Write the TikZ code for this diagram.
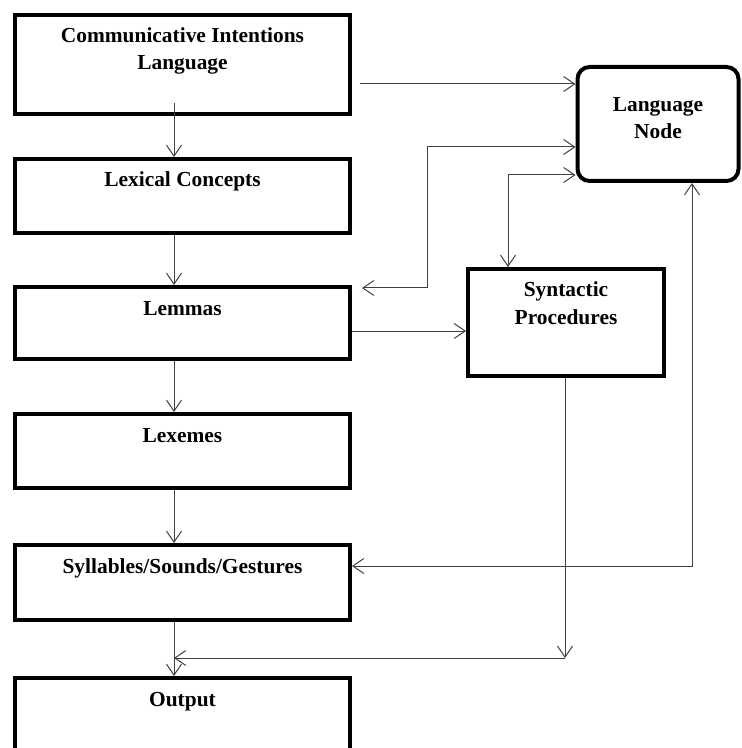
\documentclass[tikz,border=0pt]{standalone}
\usepackage{fontspec}
\setmainfont{Liberation Serif}
\usetikzlibrary{arrows.meta,positioning,calc}
\newcommand{\stagefont}{\bfseries\fontsize{10.7}{13.5}\selectfont}
\tikzset{
  stage/.style={
    draw=black, line width=2pt, anchor=north, minimum width=167.5pt,
    inner xsep=0pt, inner ysep=0pt, text height=14pt, text depth=#1,
    align=center, font=\stagefont
  },
  twoline/.style={text height=27.5pt},
  synbox/.style={stage=26pt, twoline, minimum width=98pt},
  langnode/.style={
    draw=black, line width=2pt, anchor=north, rounded corners=6pt,
    minimum width=80.5pt, inner xsep=0pt, inner ysep=0pt,
    text height=36pt, text depth=21pt, align=center, font=\stagefont
  },
  flow/.style={-{Straight Barb[length=5.5pt,width=7.5pt]}, line width=0.5pt, draw=black!75},
  flowboth/.style={{Straight Barb[length=5.5pt,width=7.5pt]}-{Straight Barb[length=5.5pt,width=7.5pt]},
    line width=0.5pt, draw=black!75}
}
\begin{document}
\begin{tikzpicture}[x=0.5pt,y=-0.5pt]
  \useasboundingbox (0,0) rectangle (741,748);
  % production stages
  \node[stage=22pt, twoline] (intent) at (182.5,13) {Communicative Intentions\\Language};
  \node[stage=23pt] (lexcon) at (182.5,157) {Lexical Concepts};
  \node[stage=22pt] (lemmas) at (182.5,285) {Lemmas};
  \node[stage=23pt] (lexemes) at (182.5,412) {Lexemes};
  \node[stage=23.5pt] (sylls) at (182.5,543) {Syllables/Sounds/Gestures};
  \node[stage=40pt] (output) at (182.5,676) {Output};
  \node[langnode] (lang) at (658,65) {Language\\Node};
  \node[synbox] (syntax) at (566,267) {Syntactic\\Procedures};
  % bends and free ends
  \coordinate (spine) at (174,0);
  \coordinate (introot) at (174,103);
  \coordinate (toLang) at (360,84);
  \coordinate (lemUp) at (427,147);
  \coordinate (lemTip) at (362,288);
  \coordinate (synUp) at (508,175);
  \coordinate (lemSyn) at (352,331);
  \coordinate (synDown) at (565,658);
  \coordinate (outJoin) at (174,658);
  \coordinate (sylRight) at (692,566);
  % main chain
  \draw[flow] (introot) -- (introot |- lexcon.north);
  \draw[flow] (spine |- lexcon.south) -- (spine |- lemmas.north);
  \draw[flow] (spine |- lemmas.south) -- (spine |- lexemes.north);
  \draw[flow] (spine |- lexemes.south) -- (spine |- sylls.north);
  \draw[flow] (spine |- sylls.south) -- (spine |- output.north);
  % links to the language node
  \draw[flow] (toLang) -- (toLang -| lang.west);
  \draw[flowboth] (lemTip) -| (lemUp) -- (lemUp -| lang.west);
  \draw[flowboth] (syntax.north -| synUp) -- (synUp) -- (synUp -| lang.west);
  \draw[flowboth] (sylRight -| sylls.east) -- (sylRight) -- (sylRight |- lang.south);
  % syntax
  \draw[flow] (lemSyn) -- (lemSyn -| syntax.west);
  \draw[flow] (syntax.south -| synDown) -- (synDown);
  \draw[flow] (synDown) -- (outJoin);
\end{tikzpicture}
\end{document}
